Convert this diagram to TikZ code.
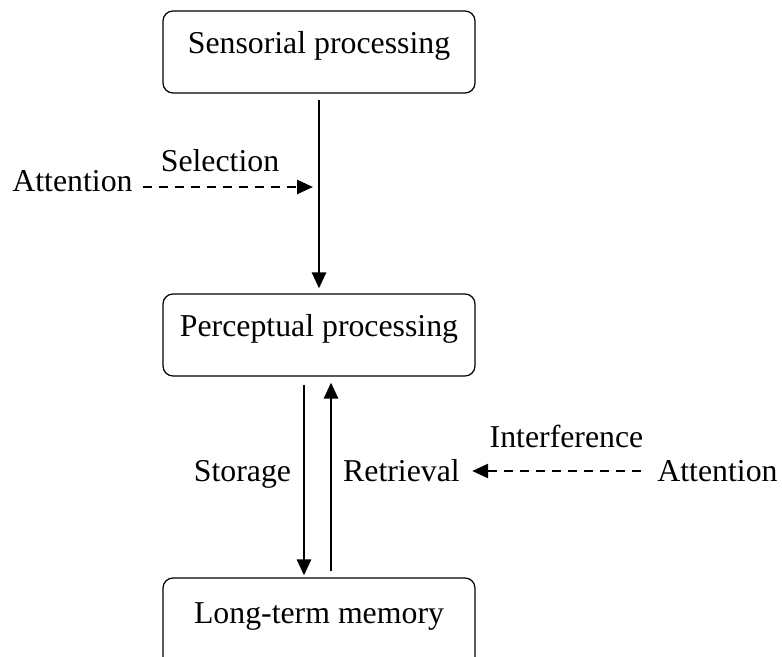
\documentclass[tikz,border=0pt]{standalone}
\usepackage{fontspec}
\setmainfont{Liberation Serif}
\usetikzlibrary{arrows.meta}

\begin{document}
\begin{tikzpicture}[x=0.5pt, y=-0.5pt, font=\fontsize{15.9}{19}\selectfont]
    \tikzstyle{stage} = [shape=rectangle, draw=black, line width=0.6pt, rounded corners=5pt, minimum width=156pt, inner sep=0pt, text height=21.5pt, text depth=19.5pt]
    \tikzstyle{word} = [inner sep=0pt, anchor=base]
    \tikzstyle{flow} = [line width=1.4pt, -{Triangle[length=8pt, width=7pt]}]
    \tikzstyle{focus} = [line width=1.3pt, dash pattern=on 4.5pt off 3.5pt, -{Triangle[length=8pt, width=7pt]}]

    \useasboundingbox (0,0) rectangle (782,657);

    \node (sens) [stage] at (319,52)  {Sensorial processing};
    \node (perc) [stage] at (319,335) {Perceptual processing};
    \node (ltm)  [stage, text height=22.5pt, text depth=24pt] at (319,624.5) {Long-term memory};

    \node (att1) [word] at (72.5,192)  {Attention};
    \node (sel)  [word] at (220,172)   {Selection};
    \node (stor) [word] at (242.5,481) {Storage};
    \node (retr) [word] at (401.5,481) {Retrieval};
    \node (intf) [word] at (566.5,448) {Interference};
    \node (att2) [word] at (717.5,481) {Attention};
    \coordinate (selpt) at (318,187);

    \draw [flow, shorten <=3pt, shorten >=2.5pt] (sens.south) -- (perc.north);
    \draw [flow, shorten <=4pt, shorten >=1pt] ([xshift=-7.5pt]perc.south) -- ([xshift=-7.5pt]ltm.north);
    \draw [flow, shorten <=3pt, shorten >=3pt] ([xshift=6pt]ltm.north) -- ([xshift=6pt]perc.south);

    \draw [focus, shorten <=5pt, shorten >=2.5pt] ([yshift=2.5pt]att1.base east) -- (selpt);
    \draw [focus, shorten <=8pt, shorten >=6pt] ([yshift=5pt]att2.base west) -- ([yshift=5pt]retr.base east);
\end{tikzpicture}
\end{document}
